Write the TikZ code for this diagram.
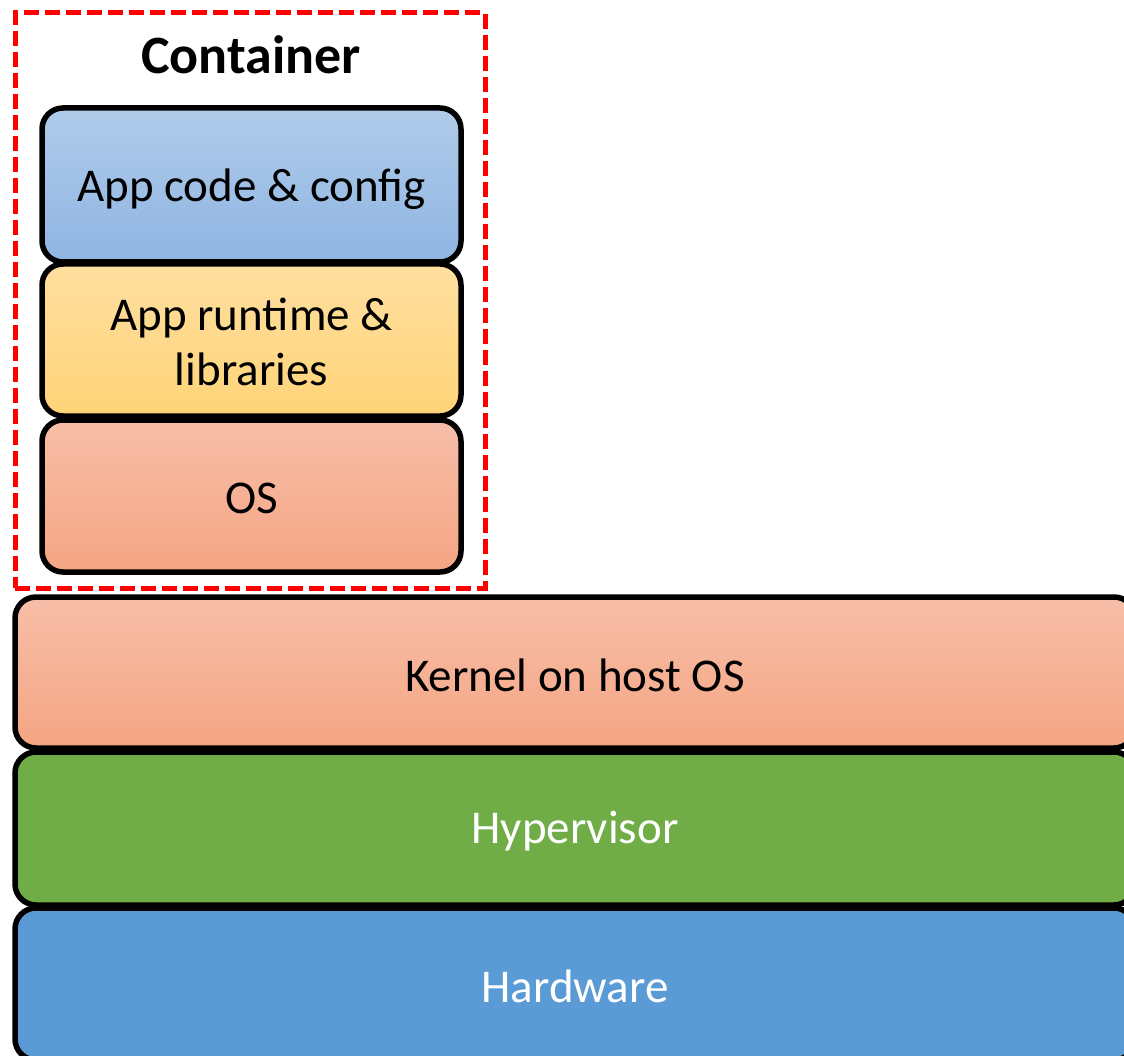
\documentclass[tikz,border=0pt]{standalone}
\usepackage{fontspec}
\setmainfont{Carlito}
\definecolor{blueTop}{HTML}{B0CBEA}
\definecolor{blueBot}{HTML}{8FB5E2}
\definecolor{yelTop}{HTML}{FFDFA0}
\definecolor{yelBot}{HTML}{FFD478}
\definecolor{salTop}{HTML}{F7BEA8}
\definecolor{salBot}{HTML}{F5A583}
\definecolor{hypGreen}{HTML}{70AD47}
\definecolor{hwBlue}{HTML}{5B9BD5}
\definecolor{dashRed}{HTML}{FF0000}
\tikzset{
  layer/.style={draw=black, line width=5.5pt, rounded corners=21pt, align=center,
    inner sep=0pt, text depth=0pt, font=\fontsize{47}{55}\selectfont},
  stackbox/.style={layer, minimum width=419pt, minimum height=152pt},
  widebox/.style={layer, minimum width=1120pt, minimum height=152pt},
  containerbox/.style={draw=dashRed, line width=5pt, dash pattern=on 15pt off 6pt,
    minimum width=470pt, minimum height=575pt, inner sep=0pt},
  lbl/.style={align=center, inner sep=0pt, font=\fontsize{47}{55}\selectfont},
}
\begin{document}
\begin{tikzpicture}[x=1pt,y=-1pt]
\useasboundingbox (0,0) rectangle (1124,1056);
\clip (0,0) rectangle (1124,1056);
\node[containerbox] (cont) at (250,300.5) {};
\node[font=\bfseries\fontsize{54}{64}\selectfont, anchor=base] (ctitle) at (251,74) {Container};
\node[stackbox, minimum height=154pt, top color=blueTop, bottom color=blueBot] (app) at (251.5,185) {};
\node[lbl] (applbl) at ([yshift=-4pt]app.center) {App code \& config};
\node[stackbox, top color=yelTop, bottom color=yelBot] (rt) at (251.5,340) {};
\node[lbl] (rtlbl) at ([yshift=-2pt]rt.center) {App runtime \&\\libraries};
\node[stackbox, top color=salTop, bottom color=salBot] (os) at (251.5,496) {};
\node[lbl] (oslbl) at ([yshift=-2pt]os.center) {OS};
\node[widebox, minimum height=151pt, top color=salTop, bottom color=salBot] (kern) at (575,672.5) {};
\node[lbl] (kernlbl) at ([yshift=-3pt]kern.center) {Kernel on host OS};
\node[widebox, minimum height=153pt, fill=hypGreen] (hyp) at (575,828.5) {};
\node[lbl, text=white] (hyplbl) at ([yshift=-3pt]hyp.center) {Hypervisor};
\node[widebox, fill=hwBlue] (hw) at (575,984) {};
\node[lbl, text=white] (hwlbl) at ([yshift=-2pt]hw.center) {Hardware};
\end{tikzpicture}
\end{document}
